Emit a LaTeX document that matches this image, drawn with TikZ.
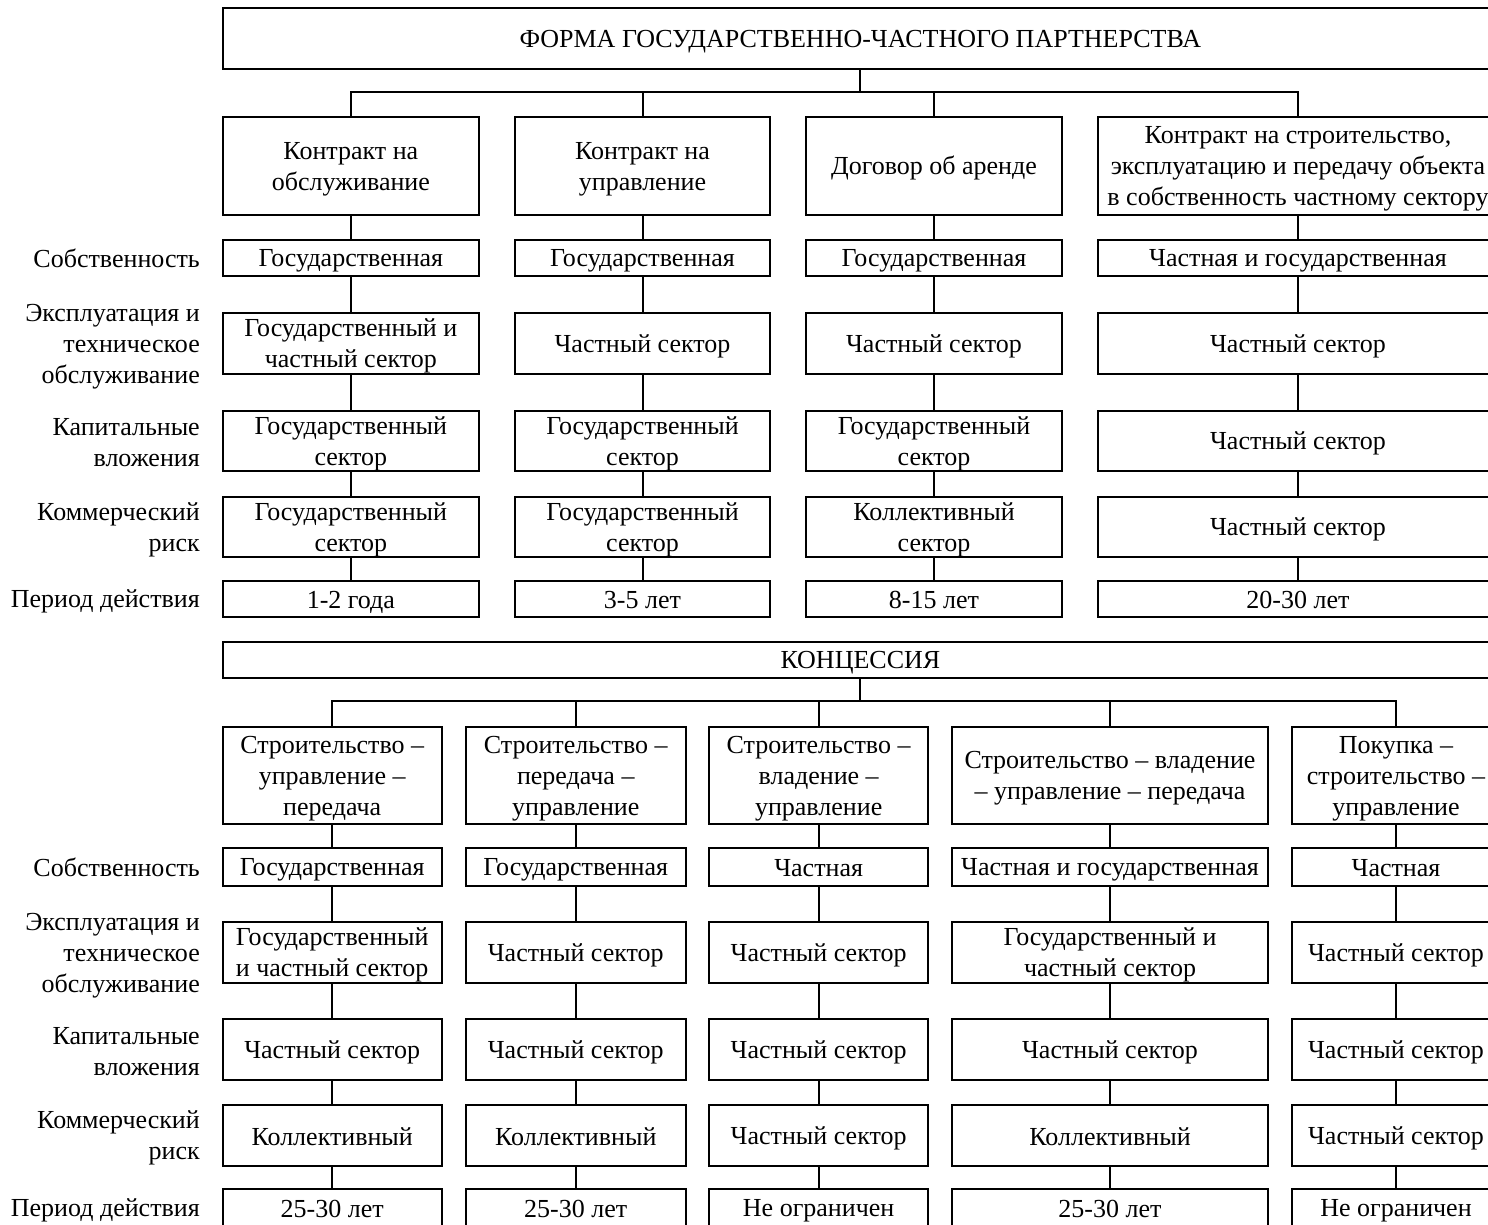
\documentclass[tikz,border=0pt]{standalone}
\usepackage{fontspec}
\setmainfont{Liberation Serif}
\newcommand{\fsz}{\fontsize{26}{31}\selectfont}
\newcommand{\st}{\rule[-3.3pt]{0pt}{26.5pt}}
\tikzset{
  bx/.style={draw, line width=2pt, fill=white, inner sep=0pt, align=center, font=\fsz},
  lbl/.style={anchor=east, align=right, inner sep=0pt, font=\fsz},
  wire/.style={line width=2pt},
}
\begin{document}
\begin{tikzpicture}[x=1pt,y=-1pt]
\useasboundingbox (0,0) rectangle (1488,1225);
\clip (0,0) rectangle (1488,1225);

% ---------------- upper part ----------------
\node[bx, minimum width=1275.3pt, minimum height=60.7pt] (main) at (860.35,38.65) {\st ФОРМА ГОСУДАРСТВЕННО-ЧАСТНОГО ПАРТНЕРСТВА};
\coordinate (tbus) at (860.35,92.3);

% column 1
\node[bx, minimum width=256.3pt, minimum height=97.7pt] (t1-h) at (350.85,166.15) {\st Контракт на\\\st обслуживание};
\node[bx, minimum width=256.3pt, minimum height=35.7pt] (t1-a) at (350.85,257.85) {\st Государственная};
\node[bx, minimum width=256.3pt, minimum height=60.7pt] (t1-b) at (350.85,343.65) {\st Государственный и\\\st частный сектор};
\node[bx, minimum width=256.3pt, minimum height=60pt] (t1-c) at (350.85,440.7) {\st Государственный\\\st сектор};
\node[bx, minimum width=256.3pt, minimum height=60pt] (t1-d) at (350.85,526.7) {\st Государственный\\\st сектор};
\node[bx, minimum width=256.3pt, minimum height=36.6pt] (t1-e) at (350.85,599) {\st 1-2 года};
% column 2
\node[bx, minimum width=255pt, minimum height=97.7pt] (t2-h) at (642.5,166.15) {\st Контракт на\\\st управление};
\node[bx, minimum width=255pt, minimum height=35.7pt] (t2-a) at (642.5,257.85) {\st Государственная};
\node[bx, minimum width=255pt, minimum height=60.7pt] (t2-b) at (642.5,343.65) {\st Частный сектор};
\node[bx, minimum width=255pt, minimum height=60pt] (t2-c) at (642.5,440.7) {\st Государственный\\\st сектор};
\node[bx, minimum width=255pt, minimum height=60pt] (t2-d) at (642.5,526.7) {\st Государственный\\\st сектор};
\node[bx, minimum width=255pt, minimum height=36.6pt] (t2-e) at (642.5,599) {\st 3-5 лет};
% column 3
\node[bx, minimum width=256pt, minimum height=97.7pt] (t3-h) at (934,166.15) {\st Договор об аренде};
\node[bx, minimum width=256pt, minimum height=35.7pt] (t3-a) at (934,257.85) {\st Государственная};
\node[bx, minimum width=256pt, minimum height=60.7pt] (t3-b) at (934,343.65) {\st Частный сектор};
\node[bx, minimum width=256pt, minimum height=60pt] (t3-c) at (934,440.7) {\st Государственный\\\st сектор};
\node[bx, minimum width=256pt, minimum height=60pt] (t3-d) at (934,526.7) {\st Коллективный\\\st сектор};
\node[bx, minimum width=256pt, minimum height=36.6pt] (t3-e) at (934,599) {\st 8-15 лет};
% column 4
\node[bx, minimum width=400pt, minimum height=97.7pt] (t4-h) at (1298,166.15) {\st Контракт на строительство,\\\st эксплуатацию и передачу объекта\\\st в собственность частному сектору};
\node[bx, minimum width=400pt, minimum height=35.7pt] (t4-a) at (1298,257.85) {\st Частная и государственная};
\node[bx, minimum width=400pt, minimum height=60.7pt] (t4-b) at (1298,343.65) {\st Частный сектор};
\node[bx, minimum width=400pt, minimum height=60pt] (t4-c) at (1298,440.7) {\st Частный сектор};
\node[bx, minimum width=400pt, minimum height=60pt] (t4-d) at (1298,526.7) {\st Частный сектор};
\node[bx, minimum width=400pt, minimum height=36.6pt] (t4-e) at (1298,599) {\st 20-30 лет};

% row labels (upper)
\node[lbl] (tl-a) at (200,257.85) {\st Собственность};
\node[lbl] (tl-b) at (200,343.65) {\st Эксплуатация и\\\st техническое\\\st обслуживание};
\node[lbl] (tl-c) at (200,440.7) {\st Капитальные\\\st вложения};
\node[lbl] (tl-d) at (200,526.7) {\st Коммерческий\\\st риск};
\node[lbl] (tl-e) at (200,599) {\st Период действия};

% upper connectors
\draw[wire] (main.south) -- (tbus);
\draw[wire] (t1-h.north) -- (t1-h.north |- tbus) -- (t4-h.north |- tbus) -- (t4-h.north);
\draw[wire] (t2-h.north) -- (t2-h.north |- tbus);
\draw[wire] (t3-h.north) -- (t3-h.north |- tbus);
\foreach \c in {1,2,3,4}{
  \draw[wire] (t\c-h.south) -- (t\c-a.north);
  \draw[wire] (t\c-a.south) -- (t\c-b.north);
  \draw[wire] (t\c-b.south) -- (t\c-c.north);
  \draw[wire] (t\c-c.south) -- (t\c-d.north);
  \draw[wire] (t\c-d.south) -- (t\c-e.north);
}

% ---------------- lower part ----------------
\node[bx, minimum width=1275.3pt, minimum height=36.6pt] (conc) at (860.35,660) {\st КОНЦЕССИЯ};
\coordinate (bbus) at (860.35,701);

% column 1
\node[bx, minimum width=219pt, minimum height=97.6pt] (b1-h) at (332.2,775.5) {\st Строительство –\\\st управление –\\\st передача};
\node[bx, minimum width=219pt, minimum height=37.4pt] (b1-a) at (332.2,867) {\st Государственная};
\node[bx, minimum width=219pt, minimum height=61pt] (b1-b) at (332.2,952.2) {\st Государственный\\\st и частный сектор};
\node[bx, minimum width=219pt, minimum height=60.7pt] (b1-c) at (332.2,1049.65) {\st Частный сектор};
\node[bx, minimum width=219pt, minimum height=60.7pt] (b1-d) at (332.2,1135.35) {\st Коллективный};
\node[bx, minimum width=219pt, minimum height=36.6pt] (b1-e) at (332.2,1207.6) {\st 25-30 лет};
% column 2
\node[bx, minimum width=219.5pt, minimum height=97.6pt] (b2-h) at (575.75,775.5) {\st Строительство –\\\st передача –\\\st управление};
\node[bx, minimum width=219.5pt, minimum height=37.4pt] (b2-a) at (575.75,867) {\st Государственная};
\node[bx, minimum width=219.5pt, minimum height=61pt] (b2-b) at (575.75,952.2) {\st Частный сектор};
\node[bx, minimum width=219.5pt, minimum height=60.7pt] (b2-c) at (575.75,1049.65) {\st Частный сектор};
\node[bx, minimum width=219.5pt, minimum height=60.7pt] (b2-d) at (575.75,1135.35) {\st Коллективный};
\node[bx, minimum width=219.5pt, minimum height=36.6pt] (b2-e) at (575.75,1207.6) {\st 25-30 лет};
% column 3
\node[bx, minimum width=218.7pt, minimum height=97.6pt] (b3-h) at (818.65,775.5) {\st Строительство –\\\st владение –\\\st управление};
\node[bx, minimum width=218.7pt, minimum height=37.4pt] (b3-a) at (818.65,867) {\st Частная};
\node[bx, minimum width=218.7pt, minimum height=61pt] (b3-b) at (818.65,952.2) {\st Частный сектор};
\node[bx, minimum width=218.7pt, minimum height=60.7pt] (b3-c) at (818.65,1049.65) {\st Частный сектор};
\node[bx, minimum width=218.7pt, minimum height=60.7pt] (b3-d) at (818.65,1135.35) {\st Частный сектор};
\node[bx, minimum width=218.7pt, minimum height=36.6pt] (b3-e) at (818.65,1207.6) {\st Не ограничен};
% column 4
\node[bx, minimum width=316pt, minimum height=97.6pt] (b4-h) at (1110,775.5) {\st Строительство – владение\\\st – управление – передача};
\node[bx, minimum width=316pt, minimum height=37.4pt] (b4-a) at (1110,867) {\st Частная и государственная};
\node[bx, minimum width=316pt, minimum height=61pt] (b4-b) at (1110,952.2) {\st Государственный и\\\st частный сектор};
\node[bx, minimum width=316pt, minimum height=60.7pt] (b4-c) at (1110,1049.65) {\st Частный сектор};
\node[bx, minimum width=316pt, minimum height=60.7pt] (b4-d) at (1110,1135.35) {\st Коллективный};
\node[bx, minimum width=316pt, minimum height=36.6pt] (b4-e) at (1110,1207.6) {\st 25-30 лет};
% column 5
\node[bx, minimum width=208pt, minimum height=97.6pt] (b5-h) at (1396,775.5) {\st Покупка –\\\st строительство –\\\st управление};
\node[bx, minimum width=208pt, minimum height=37.4pt] (b5-a) at (1396,867) {\st Частная};
\node[bx, minimum width=208pt, minimum height=61pt] (b5-b) at (1396,952.2) {\st Частный сектор};
\node[bx, minimum width=208pt, minimum height=60.7pt] (b5-c) at (1396,1049.65) {\st Частный сектор};
\node[bx, minimum width=208pt, minimum height=60.7pt] (b5-d) at (1396,1135.35) {\st Частный сектор};
\node[bx, minimum width=208pt, minimum height=36.6pt] (b5-e) at (1396,1207.6) {\st Не ограничен};

% row labels (lower)
\node[lbl] (bl-a) at (200,867) {\st Собственность};
\node[lbl] (bl-b) at (200,952.2) {\st Эксплуатация и\\\st техническое\\\st обслуживание};
\node[lbl] (bl-c) at (200,1049.65) {\st Капитальные\\\st вложения};
\node[lbl] (bl-d) at (200,1135.35) {\st Коммерческий\\\st риск};
\node[lbl] (bl-e) at (200,1207.6) {\st Период действия};

% lower connectors
\draw[wire] (conc.south) -- (bbus);
\draw[wire] (b1-h.north) -- (b1-h.north |- bbus) -- (b5-h.north |- bbus) -- (b5-h.north);
\draw[wire] (b2-h.north) -- (b2-h.north |- bbus);
\draw[wire] (b3-h.north) -- (b3-h.north |- bbus);
\draw[wire] (b4-h.north) -- (b4-h.north |- bbus);
\foreach \c in {1,2,3,4,5}{
  \draw[wire] (b\c-h.south) -- (b\c-a.north);
  \draw[wire] (b\c-a.south) -- (b\c-b.north);
  \draw[wire] (b\c-b.south) -- (b\c-c.north);
  \draw[wire] (b\c-c.south) -- (b\c-d.north);
  \draw[wire] (b\c-d.south) -- (b\c-e.north);
}
\end{tikzpicture}
\end{document}
